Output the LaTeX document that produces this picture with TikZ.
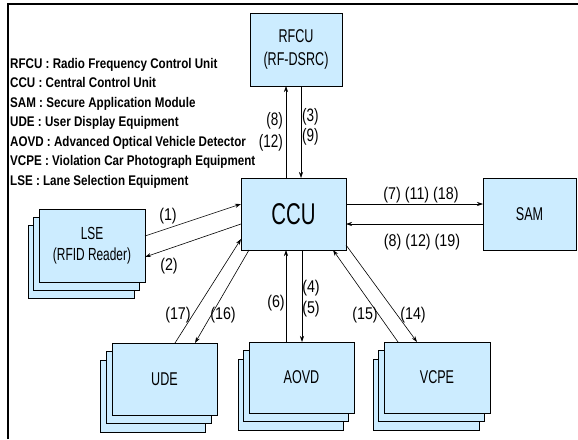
\documentclass[tikz,border=0pt]{standalone}
\usepackage{fontspec}
\setmainfont{Liberation Sans}
\newfontfamily\legendfont[FakeStretch=0.83]{Liberation Sans}
\newfontfamily\boxfont[FakeStretch=0.68]{Liberation Sans}
\newfontfamily\labfont[FakeStretch=0.84]{Liberation Sans}
\newfontfamily\labnarrow[FakeStretch=0.75]{Liberation Sans}
\usetikzlibrary{arrows.meta,calc}
\definecolor{boxblue}{RGB}{204,236,255}
\tikzset{
  box/.style={draw=black, line width=0.8pt, fill=boxblue, anchor=north west,
              inner sep=0pt, outer sep=0pt, align=center},
  arr/.style={-{Stealth[length=6pt,width=4pt]}, line width=0.6pt},
  lab/.style={inner sep=0pt, font=\labfont\fontsize{17}{17}\selectfont},
  labbig/.style={inner sep=0pt, font=\labnarrow\fontsize{18}{18}\selectfont},
  leg/.style={anchor=base west, inner sep=0pt, font=\legendfont\bfseries\fontsize{14}{14}\selectfont},
  bt/.style={font=\boxfont\fontsize{18.5}{23}\selectfont},
}
\begin{document}
\begin{tikzpicture}[x=1pt,y=-1pt]
\useasboundingbox (0,0) rectangle (578,439);
% frame
\draw[line width=2pt] (8,439) -- (8,3.5) -- (578,3.5);

% legend
\node[leg] (g1) at (10,68)   {RFCU : Radio Frequency Control Unit};
\node[leg] (g2) at (10,87.5) {CCU : Central Control Unit};
\node[leg] (g3) at (10,107)  {SAM : Secure Application Module};
\node[leg] (g4) at (10,126.5){UDE : User Display Equipment};
\node[leg] (g5) at (10,146)  {AOVD : Advanced Optical Vehicle Detector};
\node[leg] (g6) at (10,165.5){VCPE : Violation Car Photograph Equipment};
\node[leg] (g7) at (10,185)  {LSE : Lane Selection Equipment};

% single boxes
\node[box,bt,minimum width=92pt,minimum height=73pt] (rfcu) at (250,13) {RFCU\\(RF-DSRC)};
\node[box,minimum width=105pt,minimum height=72pt,font=\boxfont\fontsize{30}{30}\selectfont] (ccu) at (241,178) {CCU};
\node[box,bt,minimum width=93pt,minimum height=72pt] (sam) at (483,178) {SAM};

% LSE stack
\node[box,minimum width=106pt,minimum height=73pt] (lseb2) at (28,225) {};
\node[box,minimum width=106pt,minimum height=73pt] (lseb1) at (33.5,217) {};
\node[box,minimum width=106pt,minimum height=73pt,font=\boxfont\fontsize{17.5}{21}\selectfont] (lse) at (39,209) {LSE\\(RFID Reader)};

% UDE stack
\node[box,minimum width=105pt,minimum height=72pt] (udeb2) at (100,360) {};
\node[box,minimum width=105pt,minimum height=72pt] (udeb1) at (106,351.5) {};
\node[box,bt,minimum width=105pt,minimum height=72pt] (ude) at (112,343) {UDE};

% AOVD stack
\node[box,minimum width=105pt,minimum height=71pt] (aovdb2) at (238,359) {};
\node[box,minimum width=105pt,minimum height=71pt] (aovdb1) at (243.5,350.5) {};
\node[box,bt,minimum width=105pt,minimum height=71pt] (aovd) at (249,342) {AOVD};

% VCPE stack
\node[box,minimum width=106pt,minimum height=71pt] (vcpeb2) at (373,359) {};
\node[box,minimum width=106pt,minimum height=71pt] (vcpeb1) at (378.5,350.5) {};
\node[box,bt,minimum width=106pt,minimum height=71pt] (vcpe) at (384,342) {VCPE};

% connectors
\draw[arr] ($(ccu.north west)+(45,0)$) -- ($(rfcu.south west)+(36,0)$);
\draw[arr] ($(rfcu.south west)+(51,0)$) -- ($(ccu.north west)+(60,0)$);
\draw[arr] ($(lse.north east)+(0,27)$) -- ($(ccu.north west)+(0,26)$);
\draw[arr] ($(ccu.north west)+(0,46)$) -- ($(lse.north east)+(0,48)$);
\draw[arr] ($(ccu.north east)+(0,26)$) -- ($(sam.north west)+(0,26)$);
\draw[arr] ($(sam.north west)+(0,46)$) -- ($(ccu.north east)+(0,46)$);
\draw[arr] ($(ude.north west)+(63,0)$) -- ($(ccu.south west)+(0,-11)$);
\draw[arr] ($(ccu.south west)+(8,0)$) -- ($(ude.north west)+(83,0)$);
\draw[arr] ($(aovd.north west)+(37,0)$) -- ($(ccu.south west)+(45,0)$);
\draw[arr] ($(ccu.south west)+(61,0)$) -- ($(aovd.north west)+(53,0)$);
\draw[arr] ($(vcpe.north west)+(14,0)$) -- ($(ccu.south west)+(92,0)$);
\draw[arr] ($(ccu.south east)+(0,-5)$) -- ($(vcpe.north west)+(33,0)$);

% labels
\node[labbig,anchor=east] (l8a) at (283,121) {(8)};
\node[labbig,anchor=east] (l12a) at (283,143) {(12)};
\node[labbig,anchor=west] (l3) at (302,117) {(3)};
\node[labbig,anchor=west] (l9) at (302,137) {(9)};
\node[lab] (l1) at (168,216) {(1)};
\node[lab] (l2) at (169,266) {(2)};
\node[lab] (l17) at (178,315) {(17)};
\node[lab] (l16) at (223,315) {(16)};
\node[lab] (l6) at (276,303) {(6)};
\node[lab] (l4) at (311,288) {(4)};
\node[lab] (l5) at (311,309) {(5)};
\node[lab] (l15) at (365,315) {(15)};
\node[lab] (l14) at (413,315) {(14)};
\node[lab] (lsa) at (421,195) {(7) (11) (18)};
\node[lab] (lsb) at (422,242) {(8) (12) (19)};
\end{tikzpicture}
\end{document}
